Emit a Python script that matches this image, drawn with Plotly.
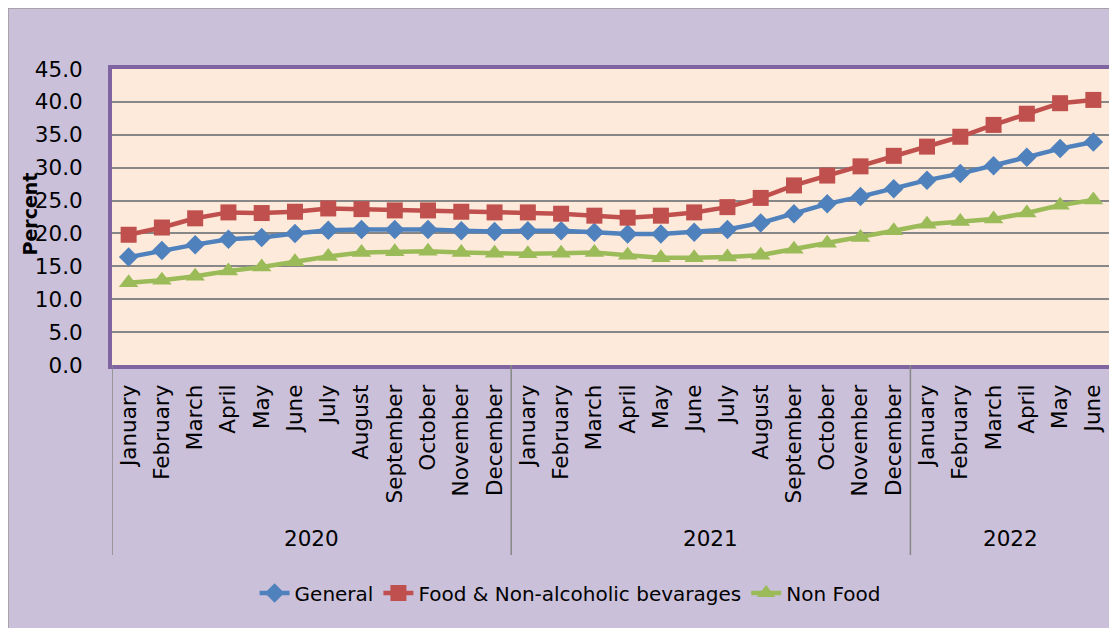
import plotly.graph_objects as go

year_names = ["2020", "2021", "2022"]
year_counts = [12, 12, 6]
months = ["January", "February", "March", "April", "May", "June", "July", "August",
          "September", "October", "November", "December"] * 2 + \
         ["January", "February", "March", "April", "May", "June"]

general = [16.4, 17.4, 18.3, 19.1, 19.4, 20.0, 20.5, 20.6, 20.6, 20.6, 20.4, 20.3,
           20.4, 20.4, 20.2, 19.9, 19.9, 20.2, 20.6, 21.6, 23.0, 24.5, 25.6, 26.8,
           28.1, 29.1, 30.3, 31.6, 32.9, 33.9]
food = [19.8, 20.9, 22.3, 23.2, 23.1, 23.3, 23.8, 23.7, 23.5, 23.5, 23.3, 23.2,
        23.2, 23.0, 22.7, 22.4, 22.7, 23.2, 24.0, 25.4, 27.3, 28.8, 30.2, 31.8,
        33.2, 34.7, 36.5, 38.2, 39.8, 40.3]
nonfood = [12.5, 12.9, 13.5, 14.3, 14.9, 15.7, 16.5, 17.1, 17.2, 17.3, 17.1, 17.0,
           16.9, 17.0, 17.1, 16.7, 16.3, 16.3, 16.4, 16.7, 17.6, 18.5, 19.4, 20.4,
           21.4, 21.8, 22.2, 23.1, 24.3, 25.1]

x = list(range(len(months)))
FONT = "DejaVu Sans"
GRID = "#878787"
BORDER = "#8064A2"
AXFONT = 21.5

fig = go.Figure()
fig.add_trace(go.Scatter(x=x, y=general, name="General", mode="lines+markers",
                         line=dict(color="#4F81BD", width=4.5),
                         marker=dict(symbol="diamond", size=15, color="#4F81BD")))
fig.add_trace(go.Scatter(x=x, y=food, name="Food & Non-alcoholic bevarages", mode="lines+markers",
                         line=dict(color="#C0504D", width=4.5),
                         marker=dict(symbol="square", size=16, color="#C0504D")))
fig.add_trace(go.Scatter(x=x, y=nonfood, name="Non Food", mode="lines+markers",
                         line=dict(color="#9BBB59", width=4.5),
                         marker=dict(symbol="triangle-up", size=17, color="#9BBB59")))

# year group labels and dividers
shapes = []
annotations = []
start = 0
bounds = [-0.5]
for name, cnt in zip(year_names, year_counts):
    annotations.append(dict(x=start + (cnt - 1) / 2, y=-0.5845, xref="x", yref="paper",
                            text=name, showarrow=False, xanchor="center", yanchor="middle",
                            font=dict(family=FONT, size=AXFONT, color="#000000")))
    start += cnt
    bounds.append(start - 0.5)
for b in bounds:
    shapes.append(dict(type="line", xref="x", yref="paper", x0=b, x1=b, y0=0, y1=-0.642,
                       line=dict(color=GRID, width=1.5)))

# outer chart border
shapes.append(dict(type="rect", xref="paper", yref="paper", x0=-104 / 998, x1=1.2,
                   y0=-(271) / 296, y1=1 + 61 / 296, line=dict(color="#9A9A9A", width=1.5),
                   layer="below"))

annotations.append(dict(x=-0.082, y=22.9, xref="paper", yref="y", text="<b>Percent</b>",
                        textangle=-90, showarrow=False, xanchor="center", yanchor="middle",
                        font=dict(family=FONT, size=19, color="#000000")))

fig.update_layout(
    width=1117, height=628,
    margin=dict(l=104, r=15, t=61, b=271, autoexpand=False),
    paper_bgcolor="#CBC0DA",
    plot_bgcolor="#FDEADA",
    font=dict(family=FONT, size=20, color="#000000"),
    showlegend=True,
    legend=dict(orientation="h", x=0.459, xanchor="center", y=-0.770, yanchor="middle",
                font=dict(family=FONT, size=20), bgcolor="rgba(0,0,0,0)"),
    xaxis=dict(range=[-0.5, len(months) - 0.5], tickmode="array", tickvals=x, ticktext=months,
               tickangle=-90, showgrid=False, zeroline=False,
               ticks="outside", ticklen=7, tickcolor="rgba(0,0,0,0)",
               showline=True, linecolor=BORDER, linewidth=4, mirror=True, automargin=False,
               tickfont=dict(family=FONT, size=AXFONT)),
    yaxis=dict(range=[0, 45], dtick=5, tickformat=".1f", showgrid=True,
               gridcolor=GRID, gridwidth=1.5, zeroline=False,
               showline=True, linecolor=BORDER, linewidth=4, mirror=True,
               ticks="outside", ticklen=21, tickcolor="rgba(0,0,0,0)", automargin=False,
               tickfont=dict(family=FONT, size=AXFONT)),
    shapes=shapes,
    annotations=annotations,
)

fig.write_html("out.html")
